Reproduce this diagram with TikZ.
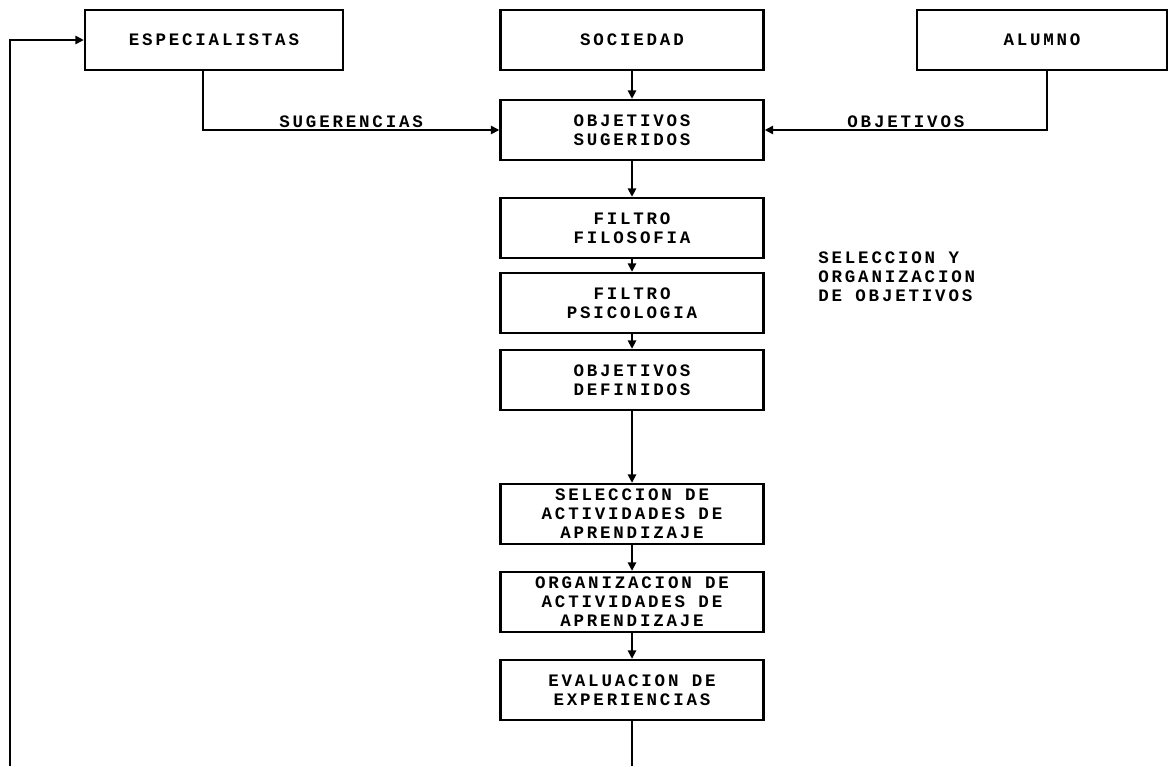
\documentclass[tikz,border=0pt]{standalone}
\usepackage{fontspec}
\newfontfamily\blkfont{Liberation Mono}[LetterSpace=16]
\usetikzlibrary{arrows.meta}

\begin{document}
\begin{tikzpicture}[x=0.6pt, y=-0.6pt,
    font=\blkfont\bfseries\fontsize{10.5}{11.4}\selectfont,
    blk/.style={draw, line width=1.5pt, minimum width=157.8pt, minimum height=36pt, inner sep=0pt, align=center},
    lbl/.style={inner sep=1pt},
    ar/.style={-{Triangle[length=5pt,width=5pt]}, line width=1pt}]
  \useasboundingbox (0,0) rectangle (1170,766);

  % fuentes
  \node[blk, minimum width=154.8pt] (esp) at (214,40) {ESPECIALISTAS};
  \node[blk] (soc) at (632,40) {SOCIEDAD};
  \node[blk, minimum width=150pt] (alu) at (1042,40) {ALUMNO};

  % columna central
  \node[blk] (sug) at (632,130) {OBJETIVOS\\SUGERIDOS};
  \node[blk] (fil) at (632,228) {FILTRO\\FILOSOFIA};
  \node[blk] (psi) at (632,303) {FILTRO\\PSICOLOGIA};
  \node[blk] (def) at (632,380) {OBJETIVOS\\DEFINIDOS};
  \node[blk] (sel) at (632,514) {SELECCION DE\\ACTIVIDADES DE\\APRENDIZAJE};
  \node[blk] (org) at (632,602) {ORGANIZACION DE\\ACTIVIDADES DE\\APRENDIZAJE};
  \node[blk] (eva) at (632,690) {EVALUACION DE\\EXPERIENCIAS};

  \node[anchor=north west, align=left, inner sep=0pt] (txt) at (818,251) {SELECCION Y\\ORGANIZACION\\DE OBJETIVOS};

  \coordinate (pe) at (203,130);
  \coordinate (pa) at (1047,130);
  \coordinate (fin) at (632,766);
  \coordinate (ret) at (10,766);

  \draw[ar] (esp.south -| pe) |- (sug.west) node[lbl, pos=0.75, above] (tsug) {SUGERENCIAS};
  \draw[ar] (alu.south -| pa) |- (sug.east) node[lbl, pos=0.75, above] (tobj) {OBJETIVOS};
  \draw[ar] (soc) -- (sug);
  \draw[ar] (sug) -- (fil);
  \draw[ar] (fil) -- (psi);
  \draw[ar] (psi) -- (def);
  \draw[ar] (def) -- (sel);
  \draw[ar] (sel) -- (org);
  \draw[ar] (org) -- (eva);
  \draw[line width=1pt] (eva) -- (fin);
  \draw[ar] (ret) |- (esp.west);
\end{tikzpicture}
\end{document}
